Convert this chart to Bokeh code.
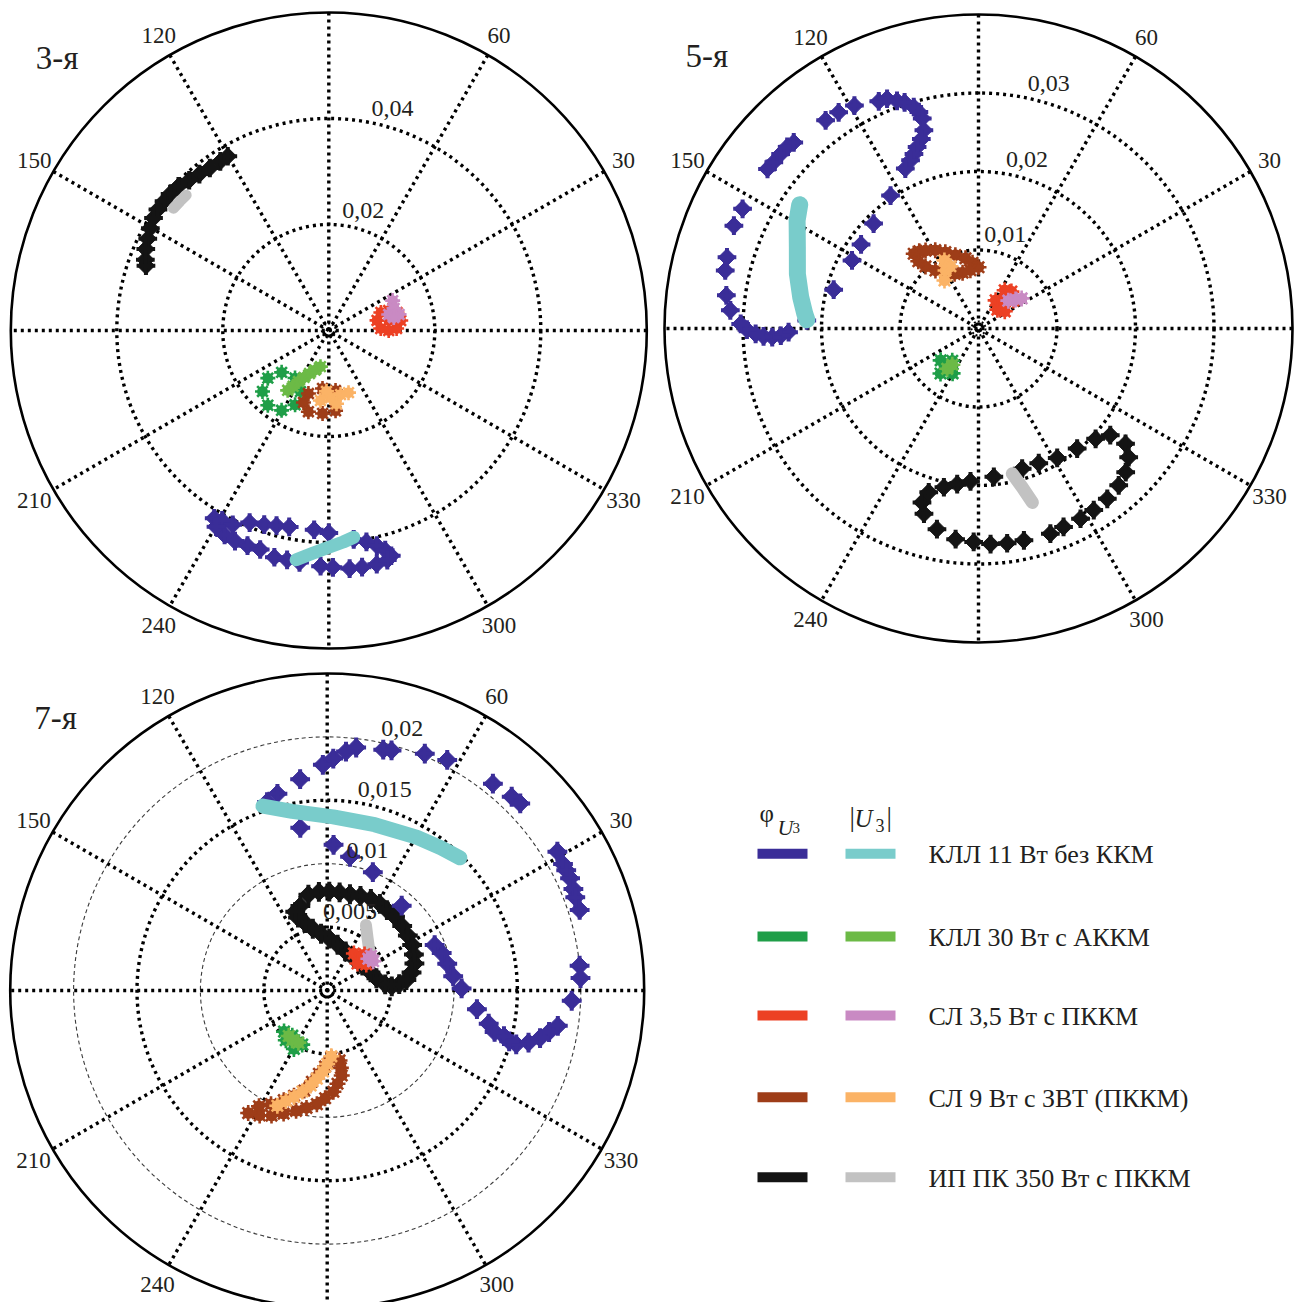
import numpy as np
from bokeh.plotting import figure
from bokeh.layouts import row, column
from bokeh.models import Range1d
from bokeh.core.properties import value
from bokeh.embed import file_html
from bokeh.resources import INLINE

FONT = "Liberation Serif"
INK = "#231f20"

# ---------------- legend / series definitions ----------------
device_keys = ["kll11", "kll30", "sl35", "sl9", "ipk"]
device_labels = ["КЛЛ 11 Вт без ККМ", "КЛЛ 30 Вт с АККМ", "СЛ 3,5 Вт с ПККМ",
                 "СЛ 9 Вт с ЗВТ (ПККМ)", "ИП ПК 350 Вт с ПККМ"]
phi_colors = ["#3a2d98", "#1f9e48", "#ec4124", "#9e3d18", "#141414"]
abs_colors = ["#79cccb", "#6cba46", "#c98ac3", "#fbb366", "#c2c2c2"]

angle_ticks = [30, 60, 120, 150, 210, 240, 300, 330]
spoke_angles = [0, 30, 60, 90, 120, 150]

# ---------------- 3rd harmonic panel ----------------
h3_title = "3-я"
h3_rmax = 0.06
h3_rings = [0.02, 0.04]
h3_thin_rings = []
h3_label_rings = [0.02, 0.04]
h3_ring_labels = ["0,02", "0,04"]

h3_kll11_phi_deg = [238.6, 240.7, 243.7, 247.6, 251.6, 255.0, 258.6, 265.8, 270.0, 276.8, 280.1, 282.6, 284.4, 285.5,
                    284.3, 281.6, 278.0, 275.0, 271.0, 268.0, 262.8, 259.7, 256.5, 252.6, 249.3, 246.0, 243.0, 240.1]
h3_kll11_phi_mag = [0.0415, 0.0411, 0.0409, 0.0392, 0.0386, 0.0381, 0.0378, 0.0377, 0.0382, 0.0397, 0.0405, 0.0416,
                    0.0428, 0.0441, 0.0447, 0.0450, 0.0451, 0.0451, 0.0447, 0.0445, 0.0441, 0.0440, 0.0440, 0.0433,
                    0.0434, 0.0435, 0.0433, 0.0427]
h3_kll11_abs_deg = [261.9, 265.7, 270.0, 273.9, 276.9]
h3_kll11_abs_mag = [0.0437, 0.0422, 0.0409, 0.0400, 0.0393]

h3_kll30_phi_deg = [245.1, 234.6, 221.6, 218.0, 222.6, 230.8, 239.4, 245.6]
h3_kll30_phi_mag = [0.0127, 0.0110, 0.0119, 0.0146, 0.0170, 0.0182, 0.0175, 0.0154]
h3_kll30_abs_deg = [235.5, 237.4, 239.3, 242.2, 245.8, 250.7, 257.0]
h3_kll30_abs_mag = [0.0137, 0.0125, 0.0112, 0.0100, 0.0089, 0.0079, 0.0070]

h3_sl35_phi_deg = [11.8, 19.1, 18.4, 14.8, 7.9, 1.7, 0.0, 2.2, 9.5]
h3_sl35_phi_mag = [0.0093, 0.0104, 0.0119, 0.0133, 0.0137, 0.0128, 0.0113, 0.0098, 0.0115]
h3_sl35_abs_deg = [25.1, 18.7, 14.9, 12.9, 11.3]
h3_sl35_abs_mag = [0.0133, 0.0130, 0.0117, 0.0136, 0.0125]

h3_sl9_phi_deg = [276.4, 263.8, 252.1, 250.6, 255.9, 265.7, 274.8]
h3_sl9_phi_mag = [0.0114, 0.0110, 0.0125, 0.0144, 0.0158, 0.0157, 0.0152]
h3_sl9_abs_deg = [263.2, 271.5, 280.4, 287.6, 267.8, 276.0]
h3_sl9_abs_mag = [0.0133, 0.0127, 0.0123, 0.0123, 0.0115, 0.0139]

h3_ipk_phi_deg = [120.1, 122.7, 126.2, 129.6, 132.9, 136.2, 139.3, 141.9, 144.7, 147.3, 150.2, 153.1, 156.0, 158.9, 160.5]
h3_ipk_phi_mag = [0.0380, 0.0379, 0.0380, 0.0383, 0.0387, 0.0393, 0.0395, 0.0395, 0.0395, 0.0393, 0.0388, 0.0383,
                  0.0378, 0.0371, 0.0366]
h3_ipk_abs_deg = [136.5, 139.0, 141.8]
h3_ipk_abs_mag = [0.0371, 0.0372, 0.0373]

# ---------------- 5th harmonic panel ----------------
h5_title = "5-я"
h5_rmax = 0.04
h5_rings = [0.01, 0.02, 0.03]
h5_thin_rings = []
h5_label_rings = [0.01, 0.02, 0.03]
h5_ring_labels = ["0,01", "0,02", "0,03"]

h5_kll11_phi_deg = [177.3, 181.1, 182.1, 182.4, 182.1, 181.4, 180.3, 178.9, 175.8, 172.5, 167.1, 164.2, 157.2, 153.1,
                    142.9, 140.9, 138.6, 136.5, 134.8, 126.3, 122.9, 119.1, 113.7, 111.7, 109.7, 108.1, 106.3, 105.4,
                    105.0, 105.4, 106.8, 108.7, 110.3, 112.0, 114.6, 123.5, 135.0, 144.4, 151.7, 165.0]
h5_kll11_phi_mag = [0.0219, 0.0242, 0.0252, 0.0263, 0.0274, 0.0284, 0.0295, 0.0303, 0.0317, 0.0324, 0.0331, 0.0333,
                    0.0338, 0.0337, 0.0337, 0.0336, 0.0336, 0.0336, 0.0334, 0.0329, 0.0328, 0.0325, 0.0316, 0.0315,
                    0.0308, 0.0303, 0.0294, 0.0286, 0.0277, 0.0262, 0.0252, 0.0244, 0.0237, 0.0231, 0.0224, 0.0203,
                    0.0189, 0.0184, 0.0183, 0.0191]
h5_kll11_abs_deg = [145.3, 149.2, 155.8, 163.2, 170.0, 175.2, 177.1]
h5_kll11_abs_mag = [0.0277, 0.0269, 0.0253, 0.0241, 0.0230, 0.0222, 0.0219]

h5_kll30_phi_deg = [220.1, 230.9, 229.8, 240.0, 229.9]
h5_kll30_phi_mag = [0.0063, 0.0053, 0.0075, 0.0066, 0.0063]
h5_kll30_abs_deg = [232.2, 234.2]
h5_kll30_abs_mag = [0.0065, 0.0057]

h5_sl35_phi_deg = [58.7, 55.6, 38.7, 33.2, 47.1, 45.0, 48.3]
h5_sl35_phi_mag = [0.0042, 0.0059, 0.0057, 0.0040, 0.0049, 0.0034, 0.0063]
h5_sl35_abs_deg = [43.0, 38.1, 34.9]
h5_sl35_abs_mag = [0.0052, 0.0060, 0.0067]

h5_sl9_phi_deg = [130.9, 127.5, 124.2, 118.9, 113.5, 107.5, 100.5, 95.2, 90.0, 97.9, 105.9, 113.6, 121.0, 126.6,
                  130.5, 131.8]
h5_sl9_phi_mag = [0.0126, 0.0124, 0.0120, 0.0114, 0.0106, 0.0098, 0.0091, 0.0084, 0.0078, 0.0075, 0.0074, 0.0076,
                  0.0082, 0.0092, 0.0104, 0.0115]
h5_sl9_abs_deg = [116.6, 119.6, 125.3, 114.3]
h5_sl9_abs_mag = [0.0097, 0.0085, 0.0075, 0.0087]

h5_ipk_phi_deg = [275.9, 287.3, 294.1, 301.3, 309.4, 316.7, 321.0, 321.9, 319.4, 315.7, 311.8, 307.1, 302.4, 298.2,
                  293.2, 289.3, 282.1, 277.6, 273.2, 268.7, 263.8, 258.3, 253.6, 252.0, 253.1, 257.7, 262.2, 267.0]
h5_ipk_phi_mag = [0.0190, 0.0187, 0.0188, 0.0193, 0.0198, 0.0205, 0.0216, 0.0238, 0.0252, 0.0262, 0.0268, 0.0272,
                  0.0274, 0.0275, 0.0275, 0.0277, 0.0276, 0.0276, 0.0275, 0.0272, 0.0270, 0.0261, 0.0246, 0.0233,
                  0.0218, 0.0207, 0.0200, 0.0195]
h5_ipk_abs_deg = [283.1, 285.4, 287.2]
h5_ipk_abs_mag = [0.0190, 0.0210, 0.0232]

# ---------------- 7th harmonic panel ----------------
h7_title = "7-я"
h7_rmax = 0.025
h7_rings = [0.005, 0.015]
h7_thin_rings = [0.01, 0.02]
h7_label_rings = [0.005, 0.01, 0.015, 0.02]
h7_ring_labels = ["0,005", "0,01", "0,015", "0,02"]

h7_kll11_phi_deg = [107.7, 104.2, 97.3, 91.1, 88.5, 85.5, 83.2, 76.9, 75.0, 67.6, 62.5, 51.3, 46.4, 44.1, 31.1, 28.2,
                    26.7, 24.8, 22.4, 20.6, 17.7, 5.6, 2.8, 357.6, 351.3, 349.4, 347.4, 345.5, 344.1, 344.4, 345.5,
                    346.1, 348.4, 352.9, 0.9, 6.5, 12.6, 18.1, 22.9, 48.7, 68.9, 80.3, 87.5, 99.4]
h7_kll11_phi_mag = [0.0156, 0.0160, 0.0168, 0.0178, 0.0183, 0.0189, 0.0193, 0.0195, 0.0196, 0.0202, 0.0205, 0.0209,
                    0.0211, 0.0212, 0.0212, 0.0211, 0.0211, 0.0211, 0.0210, 0.0209, 0.0209, 0.0200, 0.0200, 0.0193,
                    0.0184, 0.0178, 0.0172, 0.0164, 0.0155, 0.0149, 0.0144, 0.0136, 0.0130, 0.0119, 0.0106, 0.0100,
                    0.0097, 0.0095, 0.0092, 0.0089, 0.0100, 0.0107, 0.0115, 0.0130]
h7_kll11_abs_deg = [109.2, 101.1, 88.0, 74.0, 59.8, 51.4, 45.0]
h7_kll11_abs_mag = [0.0154, 0.0144, 0.0137, 0.0136, 0.0140, 0.0144, 0.0148]

h7_kll30_phi_deg = [223.6, 232.3, 245.2, 240.3, 230.2]
h7_kll30_phi_mag = [0.0047, 0.0045, 0.0047, 0.0053, 0.0051]
h7_kll30_abs_deg = [234.7, 241.1, 229.8]
h7_kll30_abs_mag = [0.0048, 0.0047, 0.0047]

h7_sl35_phi_deg = [54.2, 43.9, 33.6, 41.7, 44.0]
h7_sl35_phi_mag = [0.0036, 0.0036, 0.0037, 0.0032, 0.0041]
h7_sl35_abs_deg = [37.6, 32.5, 38.3]
h7_sl35_abs_mag = [0.0041, 0.0043, 0.0044]

h7_sl9_phi_deg = [280.0, 280.0, 279.7, 276.3, 273.5, 268.9, 264.8, 260.0, 255.5, 250.5, 246.0, 241.6, 237.2, 239.5,
                  243.7, 248.4, 252.5, 257.1, 260.5, 264.3, 268.4, 273.5]
h7_sl9_phi_mag = [0.0056, 0.0062, 0.0068, 0.0074, 0.0080, 0.0085, 0.0090, 0.0094, 0.0098, 0.0103, 0.0108, 0.0112,
                  0.0115, 0.0106, 0.0100, 0.0093, 0.0087, 0.0081, 0.0073, 0.0066, 0.0060, 0.0053]
h7_sl9_abs_deg = [273.6, 270.0, 267.1, 263.3, 260.1, 256.2, 252.7, 249.5, 246.6]
h7_sl9_abs_mag = [0.0052, 0.0058, 0.0064, 0.0070, 0.0076, 0.0082, 0.0088, 0.0093, 0.0099]

h7_ipk_phi_deg = [107.6, 101.1, 94.8, 88.8, 82.8, 76.7, 70.6, 64.5, 58.7, 53.4, 47.4, 40.7, 34.3, 28.2, 22.5, 17.2,
                  12.0, 7.5, 5.0, 3.7, 6.1, 14.0, 22.7, 35.2, 49.8, 64.7, 77.2, 87.7, 96.2, 103.1, 108.1, 111.8, 112.1]
h7_ipk_phi_mag = [0.0070, 0.0077, 0.0078, 0.0078, 0.0078, 0.0078, 0.0079, 0.0080, 0.0080, 0.0079, 0.0079, 0.0078,
                  0.0077, 0.0076, 0.0074, 0.0072, 0.0068, 0.0063, 0.0057, 0.0051, 0.0046, 0.0040, 0.0037, 0.0034,
                  0.0033, 0.0034, 0.0037, 0.0041, 0.0045, 0.0050, 0.0056, 0.0062, 0.0067]
h7_ipk_abs_deg = [59.4, 52.2, 42.1]
h7_ipk_abs_mag = [0.0060, 0.0052, 0.0045]


# ---------------- helpers ----------------
def pol(deg, mag):
    t = np.radians(np.asarray(deg, dtype=float))
    m = np.asarray(mag, dtype=float)
    return m * np.cos(t), m * np.sin(t)


def bare_figure(W, H, xr, yr):
    p = figure(width=W, height=H, output_backend="svg", toolbar_location=None,
               x_axis_location=None, y_axis_location=None, min_border=0,
               x_range=xr, y_range=yr)
    p.outline_line_color = None
    p.background_fill_color = "white"
    p.border_fill_color = "white"
    p.grid.visible = False
    p.xgrid.grid_line_color = None
    p.ygrid.grid_line_color = None
    return p


def polar_panel(W, H, cx, cy, s, rmax, rings, thin_rings, label_rings, ring_labels, title, series,
                band_w, blob, star):
    px = 1.0 / s
    p = bare_figure(W, H, Range1d(-cx / s, (W - cx) / s), Range1d(-(H - cy) / s, cy / s))

    if thin_rings:
        p.circle(x=[0.0] * len(thin_rings), y=[0.0] * len(thin_rings), radius=thin_rings,
                 fill_color=None, line_color="#3a3a3a", line_width=1.1, line_dash="4 3")
    a = np.radians(spoke_angles)
    p.segment(x0=rmax * np.cos(a), y0=rmax * np.sin(a), x1=-rmax * np.cos(a), y1=-rmax * np.sin(a),
              line_color="black", line_width=3.4, line_dash="3 4")
    p.circle(x=[0.0] * len(rings), y=[0.0] * len(rings), radius=rings,
             fill_color=None, line_color="black", line_width=3.4, line_dash="3 4")
    p.circle(x=[0.0], y=[0.0], radius=[7 * px], fill_color=None, line_color="black",
             line_width=2, line_dash="2 2")
    p.circle(x=[0.0], y=[0.0], radius=[rmax], fill_color=None, line_color="black", line_width=2.6)

    for key in ["ipk", "kll11", "kll30", "sl9", "sl35"]:
        i = device_keys.index(key)
        (pd_, pm_), (ad_, am_) = series[key]
        if key in ("kll11", "ipk"):
            x, y = pol(pd_, pm_)
            p.scatter(x, y, marker="square", angle=np.pi / 4, size=blob * 0.72,
                      fill_color=phi_colors[i], line_color=phi_colors[i])
            p.scatter(x, y, marker="cross", size=blob * 1.1, line_color=phi_colors[i], line_width=4)
            x, y = pol(ad_, am_)
            p.line(x, y, line_color=abs_colors[i], line_width=band_w[key], line_cap="round", line_join="round")
        else:
            for d, m, c in ((pd_, pm_, phi_colors[i]), (ad_, am_, abs_colors[i])):
                x, y = pol(d, m)
                p.scatter(x, y, marker="circle", size=star * 0.72, fill_color=c, line_color=None)
                p.scatter(x, y, marker="asterisk", size=star, line_color=c, line_width=2.6)

    # angle labels
    R = 1.07 * rmax
    ta = np.radians(angle_ticks)
    p.text(x=R * np.cos(ta), y=R * np.sin(ta), text=[str(v) for v in angle_ticks],
           text_font=value(FONT), text_font_size="23px", text_color=INK,
           text_align="center", text_baseline="middle")
    # ring labels
    la = np.radians(74.0)
    lr = np.asarray(label_rings) + 19 * px
    p.text(x=lr * np.cos(la), y=lr * np.sin(la), text=ring_labels,
           text_font=value(FONT), text_font_size="24px", text_color=INK,
           text_align="center", text_baseline="middle")
    # panel title
    p.text(x=[-293 * px], y=[273 * px], text=[title], text_font=value(FONT), text_font_size="33px",
           text_color=INK, text_align="left", text_baseline="alphabetic")
    return p


W1, W2 = 650, 654
H1, H2 = 662, 640

s3 = {"kll11": ((h3_kll11_phi_deg, h3_kll11_phi_mag), (h3_kll11_abs_deg, h3_kll11_abs_mag)),
      "kll30": ((h3_kll30_phi_deg, h3_kll30_phi_mag), (h3_kll30_abs_deg, h3_kll30_abs_mag)),
      "sl35": ((h3_sl35_phi_deg, h3_sl35_phi_mag), (h3_sl35_abs_deg, h3_sl35_abs_mag)),
      "sl9": ((h3_sl9_phi_deg, h3_sl9_phi_mag), (h3_sl9_abs_deg, h3_sl9_abs_mag)),
      "ipk": ((h3_ipk_phi_deg, h3_ipk_phi_mag), (h3_ipk_abs_deg, h3_ipk_abs_mag))}
s5 = {"kll11": ((h5_kll11_phi_deg, h5_kll11_phi_mag), (h5_kll11_abs_deg, h5_kll11_abs_mag)),
      "kll30": ((h5_kll30_phi_deg, h5_kll30_phi_mag), (h5_kll30_abs_deg, h5_kll30_abs_mag)),
      "sl35": ((h5_sl35_phi_deg, h5_sl35_phi_mag), (h5_sl35_abs_deg, h5_sl35_abs_mag)),
      "sl9": ((h5_sl9_phi_deg, h5_sl9_phi_mag), (h5_sl9_abs_deg, h5_sl9_abs_mag)),
      "ipk": ((h5_ipk_phi_deg, h5_ipk_phi_mag), (h5_ipk_abs_deg, h5_ipk_abs_mag))}
s7 = {"kll11": ((h7_kll11_phi_deg, h7_kll11_phi_mag), (h7_kll11_abs_deg, h7_kll11_abs_mag)),
      "kll30": ((h7_kll30_phi_deg, h7_kll30_phi_mag), (h7_kll30_abs_deg, h7_kll30_abs_mag)),
      "sl35": ((h7_sl35_phi_deg, h7_sl35_phi_mag), (h7_sl35_abs_deg, h7_sl35_abs_mag)),
      "sl9": ((h7_sl9_phi_deg, h7_sl9_phi_mag), (h7_sl9_abs_deg, h7_sl9_abs_mag)),
      "ipk": ((h7_ipk_phi_deg, h7_ipk_phi_mag), (h7_ipk_abs_deg, h7_ipk_abs_mag))}

p3 = polar_panel(W1, H1, 328.3, 330.0, 5300.0, h3_rmax, h3_rings, h3_thin_rings, h3_label_rings,
                 h3_ring_labels, h3_title, s3, {"kll11": 13, "ipk": 11}, 17, 15)
p5 = polar_panel(W2, H1, 328.0, 328.0, 7850.0, h5_rmax, h5_rings, h5_thin_rings, h5_label_rings,
                 h5_ring_labels, h5_title, s5, {"kll11": 17, "ipk": 13}, 17, 16)
p7 = polar_panel(W1, H2, 326.7, 328.0, 12680.0, h7_rmax, h7_rings, h7_thin_rings, h7_label_rings,
                 h7_ring_labels, h7_title, s7, {"kll11": 15, "ipk": 12}, 18, 16)

# ---------------- legend panel ----------------
leg = bare_figure(W2, H2, Range1d(0, W2), Range1d(H2, 0))
rows_y = [191.3, 274.0, 353.0, 434.7, 514.7]
n = len(device_labels)
leg.segment(x0=[107] * n, x1=[157] * n, y0=rows_y, y1=rows_y, line_color=phi_colors, line_width=10)
leg.segment(x0=[195] * n, x1=[245] * n, y0=rows_y, y1=rows_y, line_color=abs_colors, line_width=10)
leg.text(x=[278] * n, y=[v + 1 for v in rows_y], text=device_labels, text_font=value(FONT),
         text_font_size="26px", text_color=INK, text_align="left", text_baseline="middle")
# column headers: φ_U3 and |U3|
leg.text(x=[109], y=[151], text=["φ"], text_font=value(FONT), text_font_size="25px",
         text_color=INK, text_align="left", text_baseline="alphabetic")
leg.text(x=[127], y=[165], text=["U"], text_font=value(FONT), text_font_size="22px", text_font_style="italic",
         text_color=INK, text_align="left", text_baseline="alphabetic")
leg.text(x=[142], y=[165], text=["3"], text_font=value(FONT), text_font_size="15px",
         text_color=INK, text_align="left", text_baseline="alphabetic")
leg.text(x=[199, 236], y=[154, 154], text=["|", "|"], text_font=value(FONT), text_font_size="27px",
         text_color=INK, text_align="left", text_baseline="alphabetic")
leg.text(x=[204], y=[156], text=["U"], text_font=value(FONT), text_font_size="25px", text_font_style="italic",
         text_color=INK, text_align="left", text_baseline="alphabetic")
leg.text(x=[225], y=[163], text=["3"], text_font=value(FONT), text_font_size="18px",
         text_color=INK, text_align="left", text_baseline="alphabetic")

layout = column(row(p3, p5), row(p7, leg))
open("out.html", "w").write(file_html(layout, INLINE))
